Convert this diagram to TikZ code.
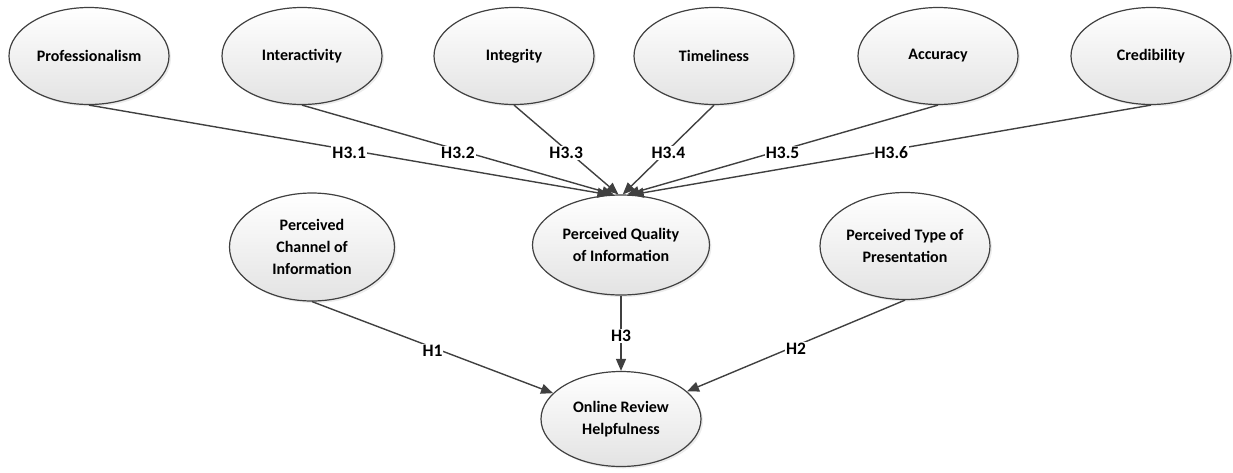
\documentclass[tikz,border=0pt]{standalone}
\usepackage{fontspec}
\setmainfont{Carlito}
\usepackage{tikz}
\usetikzlibrary {arrows.meta,
                 positioning,
                 shadows,
                 shapes.geometric}
\definecolor{edgegray}{HTML}{404040}
\tikzset{
        construct/.style={ellipse, draw=edgegray, line width=1.2pt,
        top color=white, bottom color=gray!22, align=center,
        drop shadow={opacity=0.15, shadow xshift=2pt, shadow yshift=-2pt},
        minimum width=160pt, minimum height=97pt, inner sep=1pt,
        font=\bfseries\fontsize{16}{22}\selectfont},
        hyp/.style={fill=white, inner sep=1pt, yshift=-3pt,
        font=\bfseries\fontsize{17.5}{20}\selectfont},
        myarrow/.style={-{Triangle[length=12pt, width=10pt]},
        draw=edgegray, line width=1.4pt},
 }

\begin{document}
\begin{tikzpicture}[x=1pt, y=-1pt]
    \useasboundingbox (0,0) rectangle (1233,472);

    % first-order constructs
    \node[construct] (prof)  at (89,56)   {Professionalism};
    \node[construct] (inter) at (302,56)  {Interactivity};
    \node[construct] (integ) at (514,56)  {Integrity};
    \node[construct] (time)  at (714,56)  {Timeliness};
    \node[construct] (acc)   at (938,56)  {Accuracy};
    \node[construct] (cred)  at (1151,56) {Credibility};

    % second row
    \node[construct, minimum width=165pt, minimum height=108pt] (chan)
        at (312,247) {Perceived\\Channel of\\Information};
    \node[construct, minimum width=177pt, minimum height=100pt] (qual)
        at (621,245) {Perceived Quality\\of Information};
    \node[construct, minimum width=170pt, minimum height=107pt] (pres)
        at (905,246) {Perceived Type of\\Presentation};

    % outcome
    \node[construct, minimum width=160pt, minimum height=95pt] (help)
        at (621,419) {Online Review\\Helpfulness};

    \draw[myarrow] (prof.south)  -- node[hyp] {H3.1} (qual.103);
    \draw[myarrow] (inter.south) -- node[hyp] {H3.2} (qual.98);
    \draw[myarrow] (integ.south) -- node[hyp] {H3.3} (qual.93);
    \draw[myarrow] (time.south)  -- node[hyp] {H3.4} (qual.88);
    \draw[myarrow] (acc.south)   -- node[hyp] {H3.5} (qual.83);
    \draw[myarrow] (cred.south)  -- node[hyp] {H3.6} (qual.78);

    \draw[myarrow] (chan.south) -- node[hyp] {H1} (help);
    \draw[myarrow] (qual.south) -- node[hyp] {H3} (help.north);
    \draw[myarrow] (pres.south) -- node[hyp] {H2} (help);

\end{tikzpicture}
\end{document}
